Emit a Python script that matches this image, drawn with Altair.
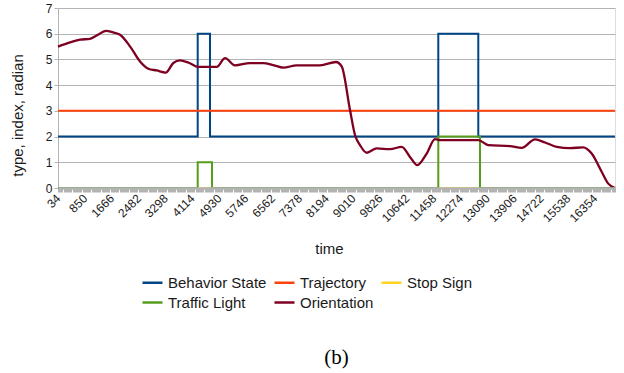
import altair as alt
import pandas as pd

series_names = ["Behavior State", "Trajectory", "Stop Sign", "Traffic Light", "Orientation"]
series_colors = ["#004586", "#ff420e", "#ffd320", "#579d1c", "#7e0021"]

behavior_t = [34, 4281, 4281, 4655, 4655, 11595, 11595, 12811, 12811, 16967]
behavior_v = [2, 2, 6, 6, 2, 2, 6, 6, 2, 2]

trajectory_t = [34, 16967]
trajectory_v = [3, 3]

stop_t = [34, 16967]
stop_v = [0, 0]

traffic_t = [34, 4281, 4281, 4716, 4716, 11595, 11595, 12863, 12863, 16967]
traffic_v = [0, 0, 1, 1, 0, 0, 2, 2, 0, 0]

orient_t = [34, 399, 703, 1007, 1210, 1493, 1706, 1919, 2223, 2527, 2779, 3034,
            3308, 3539, 3743, 3995, 4299, 4858, 5111, 5415, 5871, 6275, 6579,
            6883, 7290, 7695, 7999, 8485, 8658, 8911, 9063, 9215, 9419, 9723,
            10127, 10482, 10734, 10956, 11242, 11495, 11647, 12811, 13115,
            13775, 14130, 14535, 14839, 15194, 15599, 15999, 16258, 16562,
            16763, 16967]
orient_v = [5.50, 5.66, 5.77, 5.80, 5.93, 6.11, 6.05, 5.96, 5.51, 4.92, 4.64, 4.57,
            4.49, 4.86, 4.96, 4.88, 4.71, 4.71, 5.05, 4.77, 4.86, 4.86, 4.78,
            4.68, 4.77, 4.77, 4.77, 4.90, 4.73, 3.03, 2.06, 1.67, 1.37, 1.54,
            1.51, 1.60, 1.21, 0.89, 1.34, 1.90, 1.86, 1.86, 1.67,
            1.63, 1.56, 1.89, 1.77, 1.60, 1.55, 1.58, 1.34, 0.63,
            0.17, 0.0]

tick_step = 34
label_step = 816
x_min, x_max = 34, 16967


def frame(name, ts, vs):
    return pd.DataFrame({"series": name, "t": ts, "v": vs, "i": list(range(len(ts)))})


FONT = "Liberation Sans"
GRAY = "#b3b3b3"

color = alt.Color(
    "series:N",
    scale=alt.Scale(domain=series_names, range=series_colors),
    legend=alt.Legend(
        title=None, orient="none", legendX=83, legendY=263, columns=3,
        direction="horizontal",
        symbolType="stroke", symbolSize=400, symbolStrokeWidth=2.5,
        labelFont=FONT, labelFontSize=15, labelColor="#1a1a1a",
        labelOffset=4, columnPadding=2, rowPadding=0, padding=0,
        labelLimit=0,
    ),
)

x = alt.X(
    "t:Q",
    scale=alt.Scale(domain=[x_min, x_max], nice=False, zero=False),
    axis=alt.Axis(
        title="time", titleFont=FONT, titleFontSize=15, titleFontWeight="normal",
        titleColor="#1a1a1a", titleX=271, titleY=65, titleBaseline="alphabetic",
        values=list(range(x_min, x_max, tick_step)),
        format="d",
        labelExpr=f"(datum.value - {x_min}) % {label_step} == 0 ? datum.label : ''",
        labelAngle=-45, labelAlign="right", labelBaseline="middle",
        labelFont=FONT, labelFontSize=12, labelColor="#1a1a1a",
        labelPadding=4, labelOverlap=False, labelBound=False, labelFlush=False,
        tickColor=GRAY, tickSize=4, tickWidth=1,
        domainColor=GRAY, domainWidth=2.5, grid=False, zindex=1,
    ),
)

y = alt.Y(
    "v:Q",
    scale=alt.Scale(domain=[0, 7], nice=False),
    axis=alt.Axis(
        title="type, index, radian", titleFont=FONT, titleFontSize=15,
        titleFontWeight="normal", titleColor="#1a1a1a",
        titleX=-36, titleY=107, titleBaseline="alphabetic", titleAngle=270,
        values=[0, 1, 2, 3, 4, 5, 6, 7],
        labelFont=FONT, labelFontSize=12, labelColor="#1a1a1a", labelPadding=2,
        tickColor=GRAY, tickSize=4, domainColor=GRAY,
        grid=True, gridColor=GRAY, gridWidth=1,
    ),
)

order = alt.Order("i:Q")


def step_layer(name, ts, vs, width=2):
    return alt.Chart(frame(name, ts, vs)).mark_line(strokeWidth=width, interpolate="linear").encode(
        x=x, y=y, color=color, order=order
    )


layers = [
    step_layer("Behavior State", behavior_t, behavior_v),
    step_layer("Trajectory", trajectory_t, trajectory_v),
    step_layer("Stop Sign", stop_t, stop_v),
    step_layer("Traffic Light", traffic_t, traffic_v),
    alt.Chart(frame("Orientation", orient_t, orient_v)).mark_line(
        strokeWidth=2.3, interpolate="monotone"
    ).encode(x=x, y=y, color=color, order=order),
]

chart = alt.layer(*layers).properties(
    width=557,
    height=180,
    padding={"left": 58, "top": 8, "right": 9, "bottom": 185},
    autosize=alt.AutoSizeParams(type="none"),
    title=alt.TitleParams(
        "(b)", orient="bottom", anchor="middle", font="Liberation Serif",
        fontSize=21, fontWeight="normal", color="black", offset=36,
    ),
).configure_view(stroke=GRAY, strokeWidth=1).configure(background="white")

chart.save("out.html", embed_options={"renderer": "svg", "actions": False})
